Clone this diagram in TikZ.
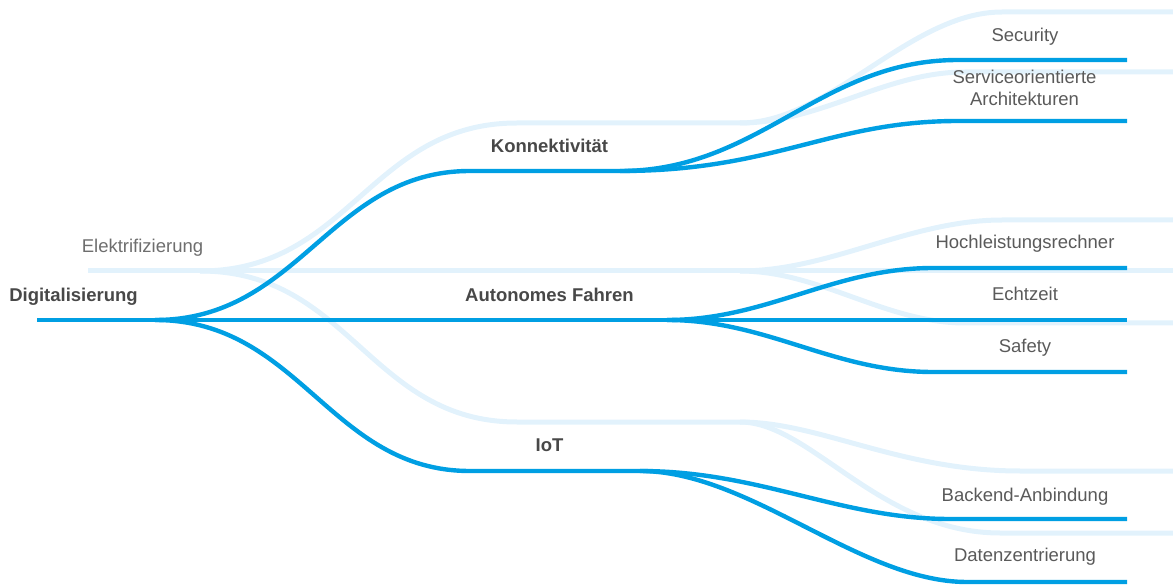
\documentclass[tikz,border=0pt]{standalone}
\usepackage{fontspec}
\setmainfont{Liberation Sans}
\definecolor{bluedark}{HTML}{009FE3}
\definecolor{bluelight}{HTML}{E2F2FC}
\definecolor{txtgray}{HTML}{5A5A5A}
\definecolor{txtbold}{HTML}{484848}
\definecolor{txtlight}{HTML}{6E6E6E}
\begin{document}
\begin{tikzpicture}[x=1pt,y=-1pt,
  darkline/.style={draw=bluedark,line width=4.4pt},
  lightline/.style={draw=bluelight,line width=5pt},
  lbl/.style={anchor=base,inner sep=0pt,text=txtgray,font=\fontsize{18.5}{22}\selectfont},
  boldlbl/.style={anchor=base,inner sep=0pt,text=txtbold,font=\fontsize{18.5}{22}\selectfont\bfseries},
  lightlbl/.style={anchor=base,inner sep=0pt,text=txtlight,font=\fontsize{18.5}{22}\selectfont}]
\useasboundingbox (0,0) rectangle (1173,585);
% ---------- coordinates ----------
% light tree
\coordinate (e0) at (88,271);
\coordinate (eS) at (200,271);
\coordinate (eK) at (517,123);
\coordinate (eKs) at (740,123);
\coordinate (eK1) at (1002,12);
\coordinate (eK1e) at (1173,12);
\coordinate (eK2) at (965,72);
\coordinate (eK2e) at (1173,72);
\coordinate (eAs) at (740,271);
\coordinate (eA1) at (1002,220);
\coordinate (eA1e) at (1173,220);
\coordinate (eAe) at (1173,271);
\coordinate (eA3) at (965,323);
\coordinate (eA3e) at (1173,323);
\coordinate (eI) at (517,422);
\coordinate (eIs) at (740,422);
\coordinate (eI1) at (1020,471);
\coordinate (eI1e) at (1173,471);
\coordinate (eI2) at (1000,533);
\coordinate (eI2e) at (1173,533);
% dark tree
\coordinate (d0) at (37,320);
\coordinate (dS) at (155,320);
\coordinate (dK) at (470,171);
\coordinate (dKs) at (620,171);
\coordinate (dK1) at (958,60);
\coordinate (dK1e) at (1127,60);
\coordinate (dK2) at (958,121);
\coordinate (dK2e) at (1127,121);
\coordinate (dAs) at (667,320);
\coordinate (dA1) at (933,268);
\coordinate (dA1e) at (1127,268);
\coordinate (dAe) at (1127,320);
\coordinate (dA3) at (933,372);
\coordinate (dA3e) at (1127,372);
\coordinate (dI) at (470,471);
\coordinate (dIs) at (640,471);
\coordinate (dI1) at (950,519);
\coordinate (dI1e) at (1127,519);
\coordinate (dI2) at (967,582);
\coordinate (dI2e) at (1127,582);
% ---------- light lines ----------
\draw[lightline] (e0) -- (eAe);
\draw[lightline] (eS) .. controls (350,271) and (370,123) .. (eK) -- (eKs);
\draw[lightline] (eKs) .. controls (830,123) and (910,12) .. (eK1) -- (eK1e);
\draw[lightline] (eKs) .. controls (820,123) and (885,72) .. (eK2) -- (eK2e);
\draw[lightline] (eAs) .. controls (830,271) and (910,220) .. (eA1) -- (eA1e);
\draw[lightline] (eAs) .. controls (820,271) and (885,323) .. (eA3) -- (eA3e);
\draw[lightline] (eS) .. controls (350,271) and (370,422) .. (eI) -- (eIs);
\draw[lightline] (eIs) .. controls (820,422) and (900,471) .. (eI1) -- (eI1e);
\draw[lightline] (eIs) .. controls (810,422) and (880,533) .. (eI2) -- (eI2e);
% ---------- dark lines ----------
\draw[darkline] (d0) -- (dAe);
\draw[darkline] (dS) .. controls (300,320) and (330,171) .. (dK) -- (dKs);
\draw[darkline] (dKs) .. controls (760,171) and (820,60) .. (dK1) -- (dK1e);
\draw[darkline] (dKs) .. controls (775,171) and (830,121) .. (dK2) -- (dK2e);
\draw[darkline] (dAs) .. controls (767,320) and (833,268) .. (dA1) -- (dA1e);
\draw[darkline] (dAs) .. controls (767,320) and (833,372) .. (dA3) -- (dA3e);
\draw[darkline] (dS) .. controls (300,320) and (330,471) .. (dI) -- (dIs);
\draw[darkline] (dIs) .. controls (760,471) and (840,519) .. (dI1) -- (dI1e);
\draw[darkline] (dIs) .. controls (750,471) and (860,582) .. (dI2) -- (dI2e);
% ---------- labels ----------
\node[lightlbl] (elek) at (142.5,252.7) {Elektrifizierung};
\node[boldlbl] (digi) at (73.5,301.7) {Digitalisierung};
\node[boldlbl] (konn) at (549.5,152.3) {Konnektivität};
\node[boldlbl] (auto) at (549.5,301.7) {Autonomes Fahren};
\node[boldlbl] (iot) at (549.5,451.7) {IoT};
\node[lbl] (sec) at (1025,41.7) {Security};
\node[lbl] (soa1) at (1024.5,83.3) {Serviceorientierte};
\node[lbl] (soa2) at (1024.5,105.3) {Architekturen};
\node[lbl] (hoch) at (1025,249) {Hochleistungsrechner};
\node[lbl] (echt) at (1025,300.7) {Echtzeit};
\node[lbl] (safe) at (1025,352.7) {Safety};
\node[lbl] (back) at (1025,501.7) {Backend-Anbindung};
\node[lbl] (daten) at (1025,561.7) {Datenzentrierung};
\end{tikzpicture}
\end{document}
